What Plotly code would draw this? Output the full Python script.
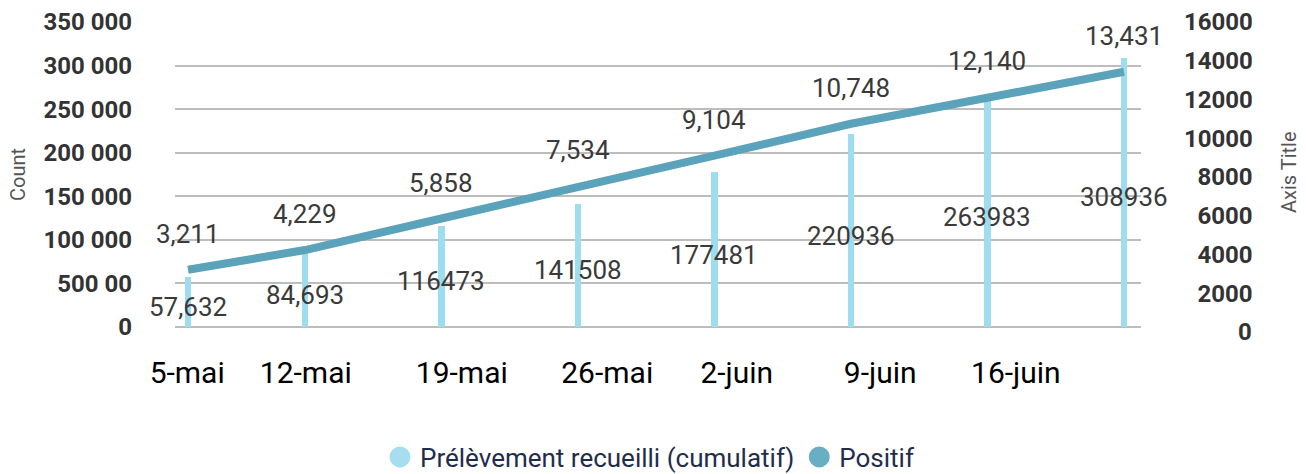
import plotly.graph_objects as go

# ---- data ----
dates = ["2020-05-05", "2020-05-11", "2020-05-18", "2020-05-25",
         "2020-06-01", "2020-06-08", "2020-06-15", "2020-06-22"]
prelevements = [57632, 84693, 116473, 141508, 177481, 220936, 263983, 308936]
positifs = [3211, 4229, 5858, 7534, 9104, 10748, 12140, 13431]
bar_labels = ["57,632", "84,693", "116473", "141508", "177481", "220936", "263983", "308936"]

x_tick_labels = ["5-mai", "12-mai", "19-mai", "26-mai", "2-juin", "9-juin", "16-juin"]
x_tick_dates = ["2020-05-04 23:00", "2020-05-11 01:00", "2020-05-19 01:00", "2020-05-26 12:00",
                "2020-06-02 03:30", "2020-06-09 12:00", "2020-06-16 11:00"]

left_tick_vals = [0, 50000, 100000, 150000, 200000, 250000, 300000, 350000]
left_tick_text = ["0", "500 00", "100 000", "150 000", "200 000", "250 000", "300 000", "350 000"]
right_tick_vals = [0, 2000, 4000, 6000, 8000, 10000, 12000, 14000, 16000]

series_names = ["Prélèvement recueilli (cumulatif)", "Positif"]

# ---- style ----
BAR_COLOR = "#9edcef"
LINE_COLOR = "#5ba3bb"
LEG_BAR = "#a6def0"
LEG_LINE = "#6aaec3"
FONT = "Roboto"
W, H = 1306, 474
ML, MR, MT, MB = 175, 30, 22, 142
PW = W - ML - MR
PH = H - MT - MB

FIG_SPACE = "\u2007"
right_tick_text = [FIG_SPACE * (5 - len(str(v))) + str(v) for v in right_tick_vals]

fig = go.Figure()

bar_width_ms = 0.33 * 24 * 3600 * 1000

fig.add_trace(go.Bar(
    x=dates, y=prelevements, name=series_names[0],
    marker=dict(color=BAR_COLOR, line=dict(width=0)),
    width=bar_width_ms, showlegend=False, yaxis="y",
))
fig.add_trace(go.Scatter(
    x=dates, y=positifs, name=series_names[1], mode="lines",
    line=dict(color=LINE_COLOR, width=8), showlegend=False, yaxis="y2",
))

# legend-only traces (circle markers)
fig.add_trace(go.Scatter(x=[None], y=[None], mode="markers", name=series_names[0],
                         marker=dict(color=LEG_BAR, size=16, symbol="circle",
                                     line=dict(color=LEG_BAR, width=5)), yaxis="y"))
fig.add_trace(go.Scatter(x=[None], y=[None], mode="markers", name=series_names[1],
                         marker=dict(color=LEG_LINE, size=16, symbol="circle",
                                     line=dict(color=LEG_LINE, width=5)), yaxis="y"))

annotations = []
for d, v, t in zip(dates, prelevements, bar_labels):
    annotations.append(dict(x=d, y=v / 2, xref="x", yref="y", text=t, showarrow=False,
                            yshift=-5, font=dict(family=FONT, size=26, color="#3a3a3a")))
for d, v in zip(dates, positifs):
    annotations.append(dict(x=d, y=v, xref="x", yref="y2", text=f"{v:,}", showarrow=False,
                            yshift=36, font=dict(family=FONT, size=26, color="#3a3a3a")))

# axis titles
annotations.append(dict(x=(18 - ML) / PW, y=(MT + PH - 175) / PH, xref="paper", yref="paper",
                        xanchor="center", yanchor="middle",
                        text="Count", showarrow=False, textangle=-90,
                        font=dict(family=FONT, size=20, color="#555555")))
annotations.append(dict(x=(1289 - ML) / PW, y=(MT + PH - 172) / PH, xref="paper", yref="paper",
                        xanchor="center", yanchor="middle",
                        text="Axis Title", showarrow=False, textangle=-90,
                        font=dict(family=FONT, size=20, color="#555555")))

fig.update_layout(
    width=W, height=H, autosize=False,
    margin=dict(l=ML, r=MR, t=MT, b=MB, pad=0, autoexpand=False),
    paper_bgcolor="white", plot_bgcolor="white",
    font=dict(family=FONT, color="#333333"),
    xaxis=dict(
        type="date", domain=[0, (1141 - ML) / PW],
        range=["2020-05-04 08:00", "2020-06-22 21:00"],
        tickvals=x_tick_dates, ticktext=x_tick_labels,
        tickfont=dict(family=FONT, size=30, color="#000000", weight="normal"),
        ticks="", showgrid=False, zeroline=False, showline=False,
        ticklabelstandoff=20, automargin=False,
    ),
    yaxis=dict(
        range=[-5738, 350000],
        tickvals=left_tick_vals, ticktext=left_tick_text,
        tickfont=dict(family=FONT, size=24, color="#333333", weight="bold"),
        showgrid=True, gridcolor="#bdbdbd", gridwidth=2,
        zeroline=False, showline=False, ticks="",
        ticklabelstandoff=42, automargin=False,
    ),
    yaxis2=dict(
        overlaying="y", side="right", anchor="x",
        range=[0, 16000],
        tickvals=right_tick_vals, ticktext=right_tick_text,
        tickfont=dict(family=FONT, size=24, color="#333333", weight="bold"),
        showgrid=False, zeroline=False, showline=False, ticks="",
        ticklabelstandoff=42, automargin=False,
    ),
    legend=dict(
        orientation="h", x=(650 - ML) / PW, xanchor="center",
        y=(MT + PH - 457) / PH, yanchor="middle",
        font=dict(family=FONT, size=26, color="#1f2d4d"),
        itemsizing="trace", itemwidth=30, tracegroupgap=0,
        bgcolor="rgba(0,0,0,0)", borderwidth=0,
    ),
    annotations=annotations,
    bargap=0,
)

fig.write_html("out.html", config={"displayModeBar": False},
               post_script="document.body.style.margin='0';")
